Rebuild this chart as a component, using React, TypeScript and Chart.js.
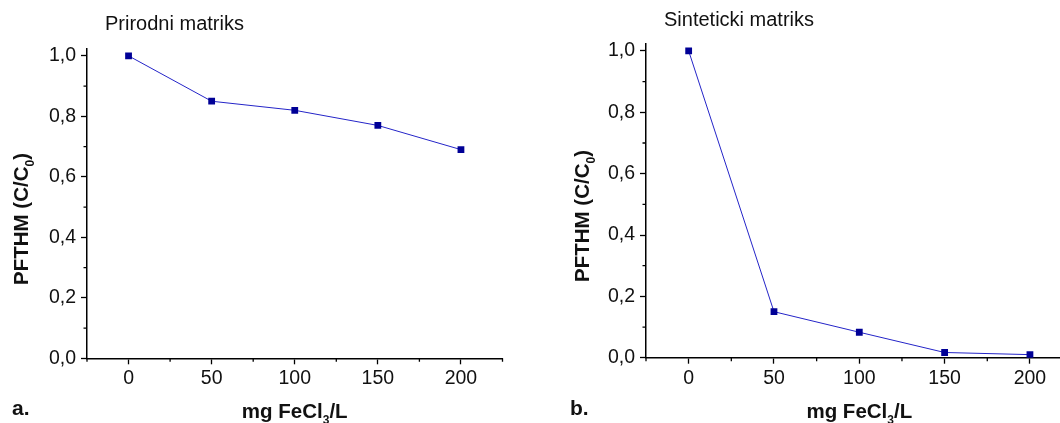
import React, { useEffect, useRef } from "react";
import { Chart, registerables } from "chart.js";

Chart.register(...registerables);

// ---- data ----
const doseMg = [0, 50, 100, 150, 200];
const prirodniValues = [1.0, 0.85, 0.82, 0.77, 0.69];
const sintetickiValues = [1.0, 0.15, 0.083, 0.017, 0.01];
const xTickValues = [0, 50, 100, 150, 200];
const xMinorTicks = [-25, 25, 75, 125, 175, 225];
const yTickValues = [0, 0.2, 0.4, 0.6, 0.8, 1.0];
const yMinorTicks = [0.1, 0.3, 0.5, 0.7, 0.9];
const panelTitles = ["Prirodni matriks", "Sinteticki matriks"];
const panelLetters = ["a.", "b."];
const yTitleMain = "PFTHM (C/C";
const yTitleSub = "0";
const yTitleEnd = ")";
const xTitleMain = "mg FeCl";
const xTitleSub = "3";
const xTitleEnd = "/L";

const FONT = "Arial, 'Liberation Sans', Helvetica, sans-serif";
const LINE_COLOR = "#2424c8";
const MARKER_COLOR = "#000096";

type PanelCfg = {
  values: number[];
  title: string;
  letter: string;
  canvasLeft: number;
  canvasWidth: number;
  yAxisWidth: number;
  padTop: number;
  padRight: number;
  xAxisHeight: number;
  titleX: number;
  titleY: number;
  letterX: number;
  yTitleX: number;
  yTitleCenter: number;
};

const panels: PanelCfg[] = [
  {
    values: prirodniValues,
    title: panelTitles[0],
    letter: panelLetters[0],
    canvasLeft: 0,
    canvasWidth: 530,
    yAxisWidth: 87,
    padTop: 48.3,
    padRight: 27.5,
    xAxisHeight: 64.7,
    titleX: 105,
    titleY: 30,
    letterX: 12,
    yTitleX: 28,
    yTitleCenter: 219,
  },
  {
    values: sintetickiValues,
    title: panelTitles[1],
    letter: panelLetters[1],
    canvasLeft: 530,
    canvasWidth: 560,
    yAxisWidth: 116,
    padTop: 43.3,
    padRight: 17.4,
    xAxisHeight: 65.3,
    titleX: 134,
    titleY: 26,
    letterX: 40,
    yTitleX: 59,
    yTitleCenter: 216,
  },
];

function drawSubText(
  ctx: CanvasRenderingContext2D,
  main: string,
  sub: string,
  end: string,
  size: number,
  x: number,
  y: number,
  center: boolean
) {
  const big = `bold ${size}px ${FONT}`;
  const small = `bold ${Math.round(size * 0.6)}px ${FONT}`;
  ctx.font = big;
  const w1 = ctx.measureText(main).width;
  const w3 = ctx.measureText(end).width;
  ctx.font = small;
  const w2 = ctx.measureText(sub).width;
  const total = w1 + w2 + w3;
  let sx = center ? x - total / 2 : x;
  ctx.textAlign = "left";
  ctx.textBaseline = "alphabetic";
  ctx.font = big;
  ctx.fillText(main, sx, y);
  ctx.font = small;
  ctx.fillText(sub, sx + w1, y + size * 0.3);
  ctx.font = big;
  ctx.fillText(end, sx + w1 + w2, y);
}

function makeDecorPlugin(p: PanelCfg) {
  return {
    id: "decor",
    afterDraw(chart: any) {
      const ctx: CanvasRenderingContext2D = chart.ctx;
      const xs = chart.scales.x;
      const ys = chart.scales.y;
      const area = chart.chartArea;
      ctx.save();
      // minor ticks
      ctx.strokeStyle = "#000";
      ctx.lineWidth = 1.3;
      ctx.beginPath();
      for (const v of xMinorTicks) {
        const px = xs.getPixelForValue(v);
        ctx.moveTo(px, area.bottom);
        ctx.lineTo(px, area.bottom + 3.5);
      }
      for (const v of yMinorTicks) {
        const py = ys.getPixelForValue(v);
        ctx.moveTo(area.left, py);
        ctx.lineTo(area.left - 3.5, py);
      }
      ctx.stroke();

      ctx.fillStyle = "#111";
      // panel title
      ctx.font = `20px ${FONT}`;
      ctx.textAlign = "left";
      ctx.textBaseline = "alphabetic";
      ctx.fillText(p.title, p.titleX, p.titleY);
      // letter
      ctx.font = `bold 21px ${FONT}`;
      ctx.fillText(p.letter, p.letterX, 415);
      // x title
      drawSubText(
        ctx,
        xTitleMain,
        xTitleSub,
        xTitleEnd,
        20.5,
        (area.left + area.right) / 2,
        417.5,
        true
      );
      // y title
      ctx.save();
      ctx.translate(p.yTitleX, p.yTitleCenter);
      ctx.rotate(-Math.PI / 2);
      drawSubText(ctx, yTitleMain, yTitleSub, yTitleEnd, 20.5, 0, 0, true);
      ctx.restore();
      ctx.restore();
    },
  };
}

function Panel({ p }: { p: PanelCfg }) {
  const ref = useRef<HTMLCanvasElement | null>(null);
  useEffect(() => {
    if (!ref.current) return;
    const points = doseMg.map((x, i) => ({ x, y: p.values[i] }));
    const fmt = (v: number) => v.toFixed(1).replace(".", ",");
    const chart = new Chart(ref.current, {
      type: "line",
      data: {
        datasets: [
          {
            data: points,
            borderColor: LINE_COLOR,
            borderWidth: 1,
            backgroundColor: MARKER_COLOR,
            pointBackgroundColor: MARKER_COLOR,
            pointBorderColor: MARKER_COLOR,
            pointBorderWidth: 0,
            pointStyle: "rect",
            pointRadius: 4.8,
            tension: 0,
            fill: false,
          },
        ],
      },
      options: {
        animation: false,
        responsive: false,
        maintainAspectRatio: false,
        devicePixelRatio: 1,
        layout: {
          padding: { left: 0, top: p.padTop, right: p.padRight, bottom: 0 },
        },
        plugins: {
          legend: { display: false },
          tooltip: { enabled: false },
          title: { display: false },
        },
        scales: {
          x: {
            type: "linear",
            min: -25,
            max: 225,
            afterBuildTicks: (s: any) => {
              s.ticks = xTickValues.map((v) => ({ value: v }));
            },
            afterFit: (s: any) => {
              s.height = p.xAxisHeight;
            },
            grid: {
              drawOnChartArea: false,
              drawTicks: true,
              tickLength: 6,
              tickColor: "#000",
              tickWidth: 1.3,
            },
            border: { display: true, color: "#000", width: 1.5 },
            ticks: {
              autoSkip: false,
              maxRotation: 0,
              padding: 3,
              color: "#111",
              font: { family: FONT, size: 19.5 },
              callback: (v: any) => String(v),
            },
          },
          y: {
            type: "linear",
            min: 0,
            max: 1.025,
            afterBuildTicks: (s: any) => {
              s.ticks = yTickValues.map((v) => ({ value: v }));
            },
            afterFit: (s: any) => {
              s.width = p.yAxisWidth;
            },
            grid: {
              drawOnChartArea: false,
              drawTicks: true,
              tickLength: 6,
              tickColor: "#000",
              tickWidth: 1.3,
            },
            border: { display: true, color: "#000", width: 1.5 },
            ticks: {
              autoSkip: false,
              padding: 5,
              color: "#111",
              font: { family: FONT, size: 19.5 },
              callback: (v: any) => fmt(Number(v)),
            },
          },
        },
      },
      plugins: [makeDecorPlugin(p)],
    } as any);
    return () => chart.destroy();
  }, [p]);
  return (
    <canvas
      ref={ref}
      width={p.canvasWidth}
      height={423}
      style={{
        position: "absolute",
        left: p.canvasLeft,
        top: 0,
        width: p.canvasWidth,
        height: 423,
      }}
    />
  );
}

export default function App() {
  return (
    <div
      style={{
        position: "fixed",
        left: 0,
        top: 0,
        width: 1060,
        height: 423,
        overflow: "hidden",
        background: "#fff",
      }}
    >
      {panels.map((p, i) => (
        <Panel key={i} p={p} />
      ))}
    </div>
  );
}
